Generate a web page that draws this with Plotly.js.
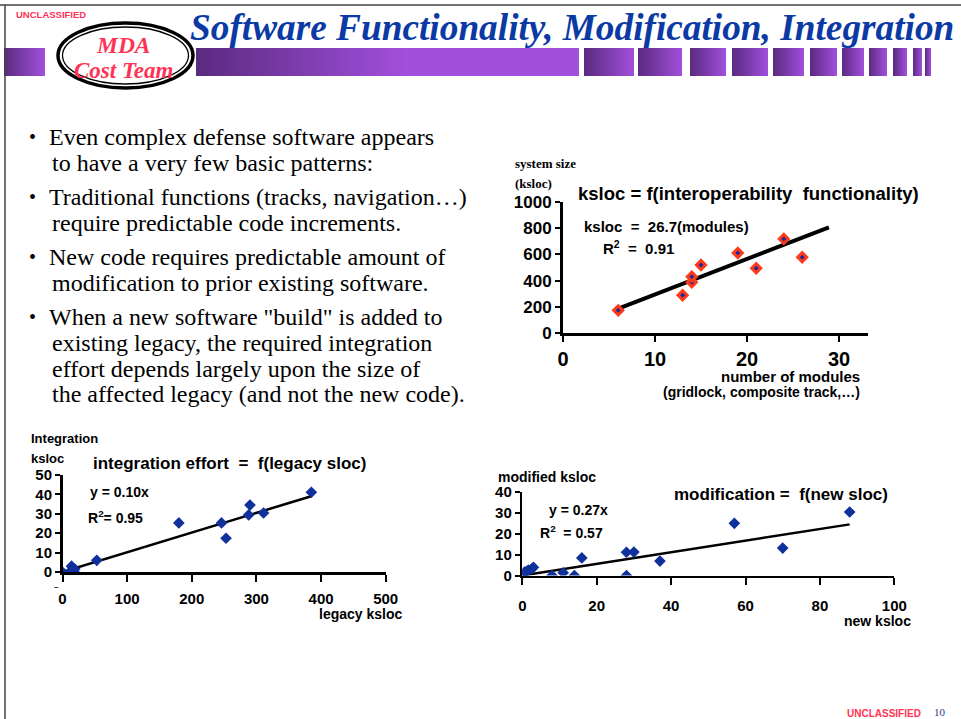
<!DOCTYPE html>
<html>
<head>
<meta charset="utf-8">
<script src="https://cdn.plot.ly/plotly-3.0.1.min.js"></script>
<style>
  html, body { margin: 0; padding: 0; background: #fff; }
  #slide { position: relative; width: 961px; height: 719px; overflow: hidden; }
  .bar { position: absolute; top: 48px; height: 28px;
         background: linear-gradient(to right, #5a2a80, #a24fdc); }
  #plot { position: absolute; left: 0; top: 0; }
</style>
</head>
<body>
<div id="slide">
  <div id="bars"></div>
  <div id="plot"></div>
</div>
<script>
// system size vs number of modules (top right)
const modules = [6, 13, 14, 14, 15, 19, 21, 24, 26];
const systemSize = [173, 288, 387, 430, 519, 611, 494, 718, 578];
const sizeFitX = [5.8, 28.9];
const sizeFitY = [181, 806];

// integration effort vs legacy ksloc (bottom left)
const legacy = [0, 12, 14, 16, 18, 19, 53, 180, 246, 253, 288, 290, 311, 385];
const integration = [0, 0, 3, 1.5, 0, 1.5, 6, 25.3, 25.3, 17.4, 29.4, 34.5, 30.4, 41.1];
const integFitX = [0, 386];
const integFitY = [0, 39.2];

// modified ksloc vs new ksloc (bottom right)
const newSloc = [0, 0.7, 1.6, 2.5, 3, 8, 11, 14, 16, 28, 28, 30, 37, 57, 70, 88];
const modified = [0, 1.8, 2.6, 3.1, 3.9, 0, 1.3, 0, 8.4, 11.1, 0, 11.2, 6.9, 24.9, 13.1, 30.3];
const modFitX = [0, 88];
const modFitY = [0, 24.4];

const bullets = [
  ["Even complex defense software appears", "to have a very few basic patterns:"],
  ["Traditional functions (tracks, navigation…)", "require predictable code increments."],
  ["New code requires predictable amount of", "modification to prior existing software."],
  ["When a new software \"build\" is added to", "existing legacy, the required integration",
   "effort depends largely upon the size of", "the affected legacy (and not the new code)."]
];

const W = 961, H = 719;
const px = x => x / W;
const py = y => 1 - y / H;

const SANS = "Liberation Sans, Arial, sans-serif";
const SERIF = "Liberation Serif, Times New Roman, serif";
const RED = "#ff3355";
const NAVY = "#10309c";

// header bars (left edge, right edge)
[[4, 45], [196, 579], [584, 634], [638, 682], [690, 726], [732, 768], [773, 804],
 [810, 837], [842, 864], [869, 887], [893, 907], [913, 922], [925, 931]].forEach(([a, b], i) => {
  const d = document.createElement("div");
  d.className = "bar";
  d.style.left = a + "px";
  d.style.width = (b - a) + "px";
  if (i == 1) d.style.background = "linear-gradient(to right, #5a2a80, #a24fdc 55%, #a24fdc)";
  document.getElementById("bars").appendChild(d);
});

function axis(domain, range, dtick, size, extra) {
  return Object.assign({
    domain, range, dtick,
    showline: true, linecolor: "black", linewidth: 2.5,
    ticks: "outside", ticklen: 5, tickwidth: 2, tickcolor: "black",
    showgrid: false, zeroline: false, fixedrange: true,
    tickfont: { family: SANS, size, color: "black", weight: 700 }
  }, extra);
}

const traces = [
  { x: sizeFitX, y: sizeFitY, mode: "lines", line: { color: "black", width: 4 }, xaxis: "x", yaxis: "y" },
  { x: modules, y: systemSize, mode: "markers", xaxis: "x", yaxis: "y",
    marker: { symbol: "diamond", size: 7, color: "#1a2a9c", line: { color: "#ff3a1a", width: 3 } } },
  { x: integFitX, y: integFitY, mode: "lines", line: { color: "black", width: 2.5 }, xaxis: "x2", yaxis: "y2" },
  { x: legacy, y: integration, mode: "markers", xaxis: "x2", yaxis: "y2",
    marker: { symbol: "diamond", size: 9, color: NAVY } },
  { x: modFitX, y: modFitY, mode: "lines", line: { color: "black", width: 2.5 }, xaxis: "x3", yaxis: "y3" },
  { x: newSloc, y: modified, mode: "markers", xaxis: "x3", yaxis: "y3",
    marker: { symbol: "diamond", size: 9, color: NAVY } }
];

function note(x, y, text, size, opts) {
  return Object.assign({
    xref: "paper", yref: "paper", x: px(x), y: py(y), text, showarrow: false,
    xanchor: "left", yanchor: "middle",
    font: { family: SANS, size, color: "black" }
  }, opts);
}

const annotations = [
  note(14, 15, "<b>UNCLASSIFIED</b>", 9.5, { font: { family: SANS, size: 9.5, color: RED } }),
  note(188, 28, "<b><i>Software Functionality, Modification, Integration</i></b>", 37.3,
       { font: { family: SERIF, size: 37.3, color: "#0b3aa5" } }),
  note(123, 45, "<b><i>MDA</i></b>", 23.5, { xanchor: "center", font: { family: SERIF, size: 23.5, color: RED } }),
  note(123, 70, "<b><i>Cost Team</i></b>", 23, { xanchor: "center", font: { family: SERIF, size: 23, color: RED } }),
  note(845, 713, "<b>UNCLASSIFIED</b>", 10, { font: { family: SANS, size: 10, color: RED } }),
  note(932, 712, "10", 11, { font: { family: SERIF, size: 11, color: "#2a3a8a" } }),

  // top right chart texts
  note(513, 163, "<b>system size</b>", 13, { font: { family: SERIF, size: 13, color: "black" } }),
  note(513, 183, "<b>(ksloc)</b>", 13, { font: { family: SERIF, size: 13, color: "black" } }),
  note(576, 193, "<b>ksloc = f(interoperability  functionality)</b>", 18.5),
  note(582, 227, "<b>ksloc  =  26.7(modules)</b>", 15),
  note(601, 247, "<b>R<sup>2</sup>  =  0.91</b>", 15),
  note(862, 377, "<b>number of modules</b>", 15, { xanchor: "right" }),
  note(862, 392, "<b>(gridlock, composite track,…)</b>", 14, { xanchor: "right" }),

  // bottom left chart texts
  note(29, 438, "<b>Integration</b>", 13),
  note(29, 458, "<b>ksloc</b>", 13),
  note(91, 464, "<b>integration effort  =  f(legacy sloc)</b>", 17),
  note(88, 492, "<b>y = 0.10x</b>", 14),
  note(86, 517, "<b>R<sup>2</sup>= 0.95</b>", 14),
  note(404, 614, "<b>legacy ksloc</b>", 14, { xanchor: "right" }),
  note(56, 586, "<b>–</b>", 8, { xanchor: "center" }),

  // bottom right chart texts
  note(496, 477, "<b>modified ksloc</b>", 14),
  note(672, 494, "<b>modification =  f(new sloc)</b>", 17),
  note(547, 510, "<b>y = 0.27x</b>", 14),
  note(538, 532, "<b>R<sup>2</sup>  = 0.57</b>", 14),
  note(913, 621, "<b>new ksloc</b>", 14, { xanchor: "right" })
];

// bullet list
const bulletTops = [137, 197, 257, 317];
bullets.forEach((lines, i) => {
  annotations.push(note(27, bulletTops[i], "•", 20, { font: { family: SERIF, size: 20, color: "black" } }));
  lines.forEach((t, j) => {
    annotations.push(note(j == 0 ? 47 : 50, bulletTops[i] + j * 25.8, t, 24,
      { font: { family: SERIF, size: 24, color: "black" } }));
  });
});

const shapes = [
  { type: "line", xref: "paper", yref: "paper", x0: 0, x1: 1, y0: py(5), y1: py(5), line: { color: "#444", width: 1.5 } },
  { type: "line", xref: "paper", yref: "paper", x0: px(5), x1: px(5), y0: py(5), y1: 0, line: { color: "#444", width: 1.5 } },
  { type: "circle", xref: "paper", yref: "paper", x0: px(58), x1: px(193), y0: py(88), y1: py(23),
    fillcolor: "white", line: { color: "black", width: 3.5 } },
  { type: "circle", xref: "paper", yref: "paper", x0: px(62.5), x1: px(188.5), y0: py(84), y1: py(27),
    fillcolor: "rgba(0,0,0,0)", line: { color: "black", width: 1.3 } }
];

const layout = {
  width: W, height: H,
  margin: { l: 0, r: 0, t: 0, b: 0 },
  paper_bgcolor: "rgba(0,0,0,0)", plot_bgcolor: "rgba(0,0,0,0)",
  showlegend: false,
  xaxis: axis([px(563), px(868)], [0, 33.15], 10, 20, { anchor: "y", linewidth: 3, ticklen: 6 }),
  yaxis: axis([py(333), py(202)], [0, 1000], 200, 17, { anchor: "x", linewidth: 3 }),
  xaxis2: axis([px(62.5), px(385.7)], [0, 500], 100, 15, { anchor: "y2", ticklen: 7, ticklabelstandoff: 4 }),
  yaxis2: axis([py(572), py(475)], [0, 50], 10, 15, { anchor: "x2" }),
  xaxis3: axis([px(522.3), px(894.3)], [0, 100], 20, 15, { anchor: "y3", ticklen: 7, ticklabelstandoff: 8 }),
  yaxis3: axis([py(575.5), py(491.7)], [0, 40], 10, 15, { anchor: "x3" }),
  annotations, shapes
};

Plotly.newPlot("plot", traces, layout, { displayModeBar: false, staticPlot: true });
</script>
</body>
</html>
